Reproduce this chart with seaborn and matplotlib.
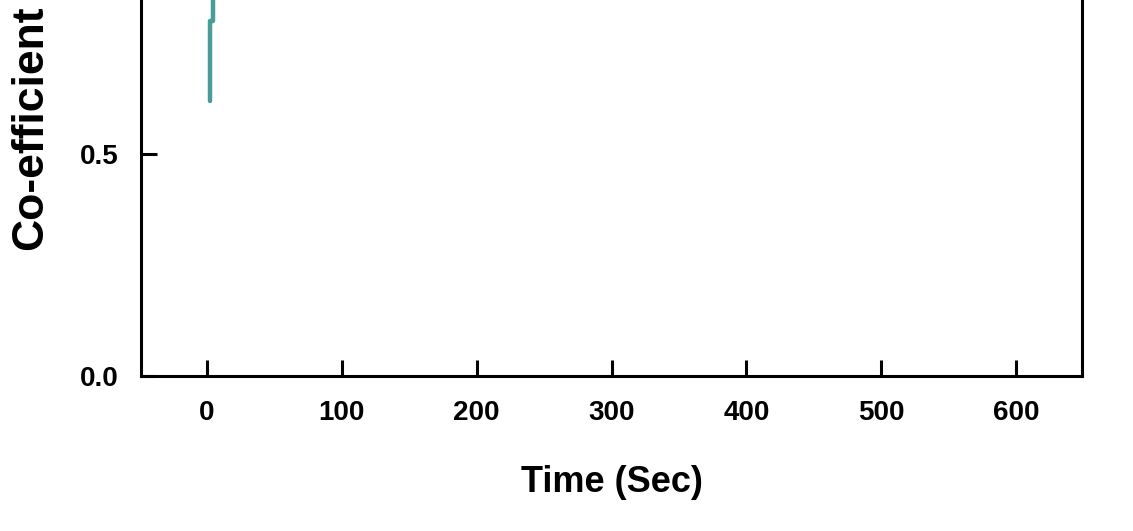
import matplotlib
matplotlib.use("Agg")
import matplotlib.pyplot as plt
import seaborn as sns
import pandas as pd

# Visible portion of the friction co-efficient trace
time_sec = [2.2, 2.2, 4.5, 4.5]
coefficient = [0.62, 0.80, 0.80, 0.95]

x_ticks = [0, 100, 200, 300, 400, 500, 600]
y_ticks = [0.0, 0.5]

sns.set_theme(style="ticks")
plt.rcParams['font.family'] = ['Liberation Sans', 'DejaVu Sans']

fig = plt.figure(figsize=(11.33, 5.31), dpi=100)
ax = fig.add_axes([141/1133, 1 - 376/531, (1082-141)/1133, 376/531])

df = pd.DataFrame({"Time": time_sec, "Coef": coefficient})
sns.lineplot(data=df, x="Time", y="Coef", ax=ax, color="#4a9c98",
             linewidth=3.2, sort=False, estimator=None)

ax.set_xlim(-49, 649)
ax.set_ylim(0, 0.847)
ax.set_xticks(x_ticks)
ax.set_yticks(y_ticks)
ax.set_yticklabels(["0.0", "0.5"])

for s in ["left", "right", "bottom"]:
    ax.spines[s].set_linewidth(2.2)
    ax.spines[s].set_color("black")
ax.spines["top"].set_visible(False)

ax.tick_params(axis="both", direction="in", length=11.5, width=2.2,
               labelsize=20, colors="black")
ax.tick_params(axis="x", pad=17)
ax.tick_params(axis="y", pad=16)
for lbl in ax.get_xticklabels() + ax.get_yticklabels():
    lbl.set_fontweight("bold")

ax.set_xlabel("Time (Sec)", fontsize=26, fontweight="bold", labelpad=28,
              color="black")
ax.set_ylabel("Co-efficient", fontsize=32, fontweight="bold", color="black")
ax.yaxis.set_label_coords(-0.095, 0.66)

fig.savefig("out.png", dpi=100)
